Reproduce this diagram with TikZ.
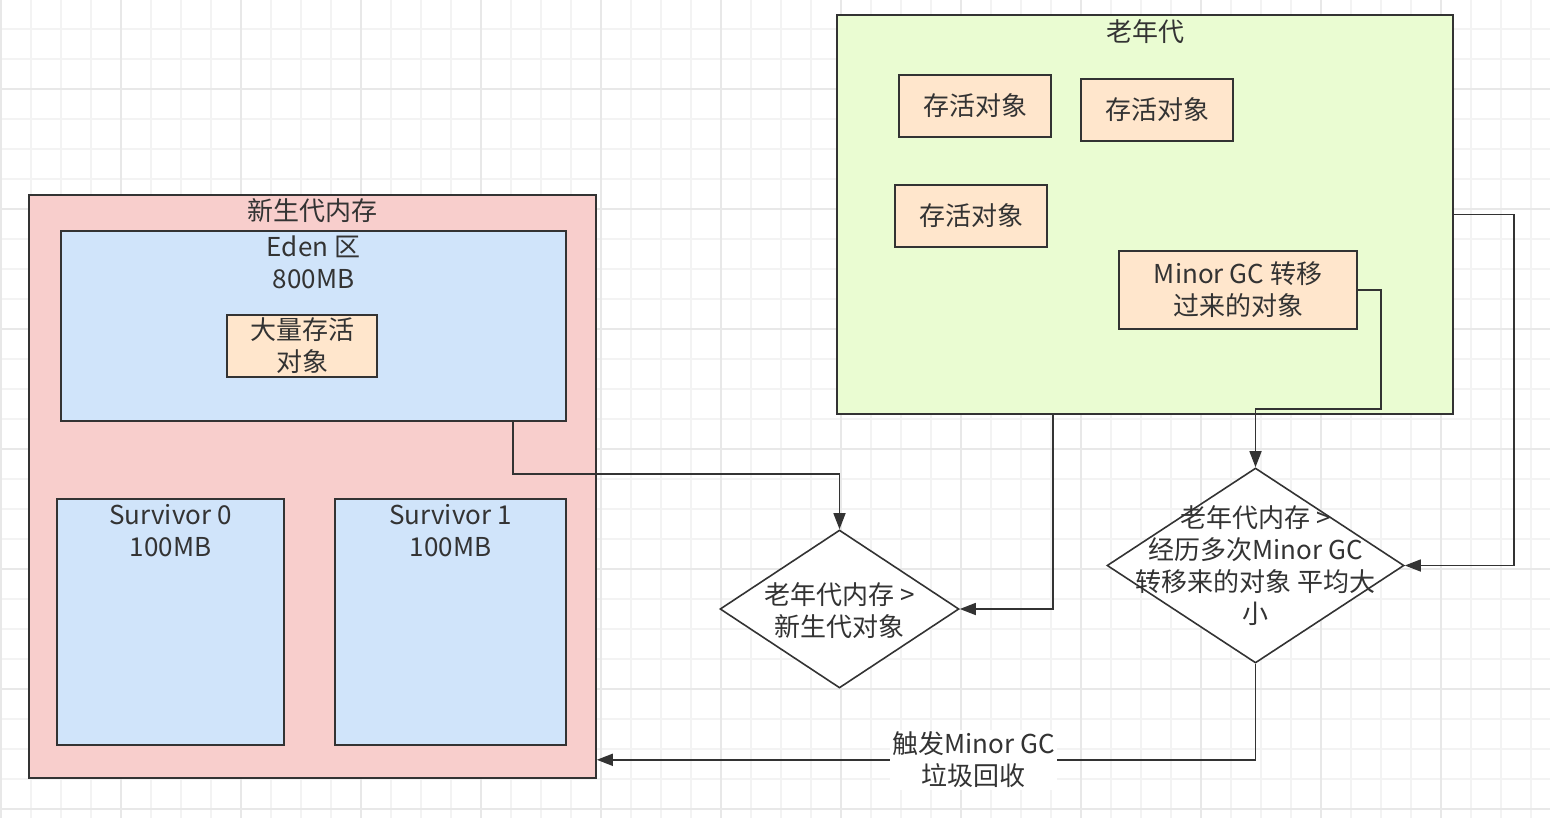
\documentclass[tikz,border=0pt]{standalone}
\usepackage{fontspec}
\setmainfont{Noto Sans CJK SC}
\usetikzlibrary{%
  arrows.meta,% Triangle tips
  shapes.geometric,% diamond
  positioning%
}
\definecolor{linegray}{HTML}{333333}
\definecolor{younggen}{HTML}{F8CECC}
\definecolor{edenblue}{HTML}{D0E4FA}
\definecolor{oldgen}{HTML}{EAFCD2}
\definecolor{objorange}{HTML}{FFE6CC}
\definecolor{gridminor}{HTML}{F3F3F3}
\definecolor{gridmajor}{HTML}{E8E8E8}

\begin{document}
\begin{tikzpicture}[x=1pt,y=-1pt,
	region/.style={
	rectangle,
	line width=1.6pt,
	draw=linegray,
	inner sep=0pt
	},object/.style={
	rectangle,
	line width=1.6pt,
	draw=linegray,
	fill=objorange,
	inner sep=0pt,
	align=center,
	text=linegray,
	font=\fontsize{26}{32}\selectfont
	},decision/.style={
	diamond,
	line width=1.6pt,
	draw=linegray,
	fill=white,
	inner sep=0pt
	},title/.style={
	anchor=center,
	inner sep=0pt,
	align=center,
	text=linegray,
	font=\fontsize{26}{32}\selectfont
	},conn/.style={
	line width=1.6pt,
	draw=linegray,
	-{Triangle[length=16pt,width=12pt]}
	},edgelabel/.style={
	fill=white,
	inner sep=2pt,
	align=center,
	text=linegray,
	font=\fontsize{26}{32}\selectfont
	}
]
\useasboundingbox (0,0) rectangle (1550,818);

% background grid
\foreach \k in {0,...,51} \draw[gridminor,line width=1.5pt] ({1+30*\k},0) -- ++(0,818);
\foreach \k in {0,...,27} \draw[gridminor,line width=1.5pt] (0,{-1+30*\k}) -- ++(1550,0);
\foreach \k in {0,...,12} \draw[gridmajor,line width=1.5pt] ({1+120*\k},0) -- ++(0,818);
\foreach \k in {0,...,6} \draw[gridmajor,line width=1.5pt] (0,{89+120*\k}) -- ++(1550,0);

% young generation
\node (young) [region,fill=younggen,minimum width=567pt,minimum height=583pt,
	label={[title,yshift=-16pt]north:新生代内存}] at (312.5,486.5) {};
\node (eden) [region,fill=edenblue,minimum width=505pt,minimum height=190pt,
	label={[title,yshift=-32pt]north:Eden 区\\800MB}] at (313.5,326) {};
\node (bigobj) [object,minimum width=150pt,minimum height=62pt] at (302,346) {大量存活\\对象};
\node (surv0) [region,fill=edenblue,minimum width=227pt,minimum height=246pt,
	label={[title,yshift=-32pt]north:Survivor 0\\100MB}] at (170.5,622) {};
\node (surv1) [region,fill=edenblue,minimum width=231pt,minimum height=246pt,
	label={[title,yshift=-32pt]north:Survivor 1\\100MB}] at (450.5,622) {};

% old generation
\node (old) [region,fill=oldgen,minimum width=616pt,minimum height=399pt,
	label={[title,yshift=-17pt]north:老年代}] at (1145,214.5) {};
\node (obj1) [object,minimum width=152pt,minimum height=62pt] at (975,106) {存活对象};
\node (obj2) [object,minimum width=152pt,minimum height=62pt] at (1157,110) {存活对象};
\node (obj3) [object,minimum width=152pt,minimum height=62pt] at (971,216) {存活对象};
\node (mgc) [object,minimum width=238pt,minimum height=78pt] at (1238,290) {Minor GC 转移\\过来的对象};

% checks
\node (check1) [decision,minimum width=239pt,minimum height=158pt,
	label={[title,yshift=-2pt]center:老年代内存 >\\新生代对象}] at (839.5,609) {};
\node (check2) [decision,minimum width=297pt,minimum height=195pt,
	label={[title]center:老年代内存 >\\经历多次Minor GC\\转移来的对象 平均大\\小}] at (1255.5,565.5) {};

\draw[conn] ([xshift=199.5pt]eden.south) -- ++(0,52) -| (check1.north);
\draw[conn] ([xshift=-92pt]old.south) |- (check1.east);
\draw[conn] (mgc.east) -| ++(23,119) -| (check2.north);
\draw[conn] (old.east) -- ++(60,0) |- (check2.east);
\draw[conn] (check2.south) |- ([yshift=19pt]young.south east)
	node (gclabel) [edgelabel,pos=0.714] {触发Minor GC\\垃圾回收};

\end{tikzpicture}
\end{document}
